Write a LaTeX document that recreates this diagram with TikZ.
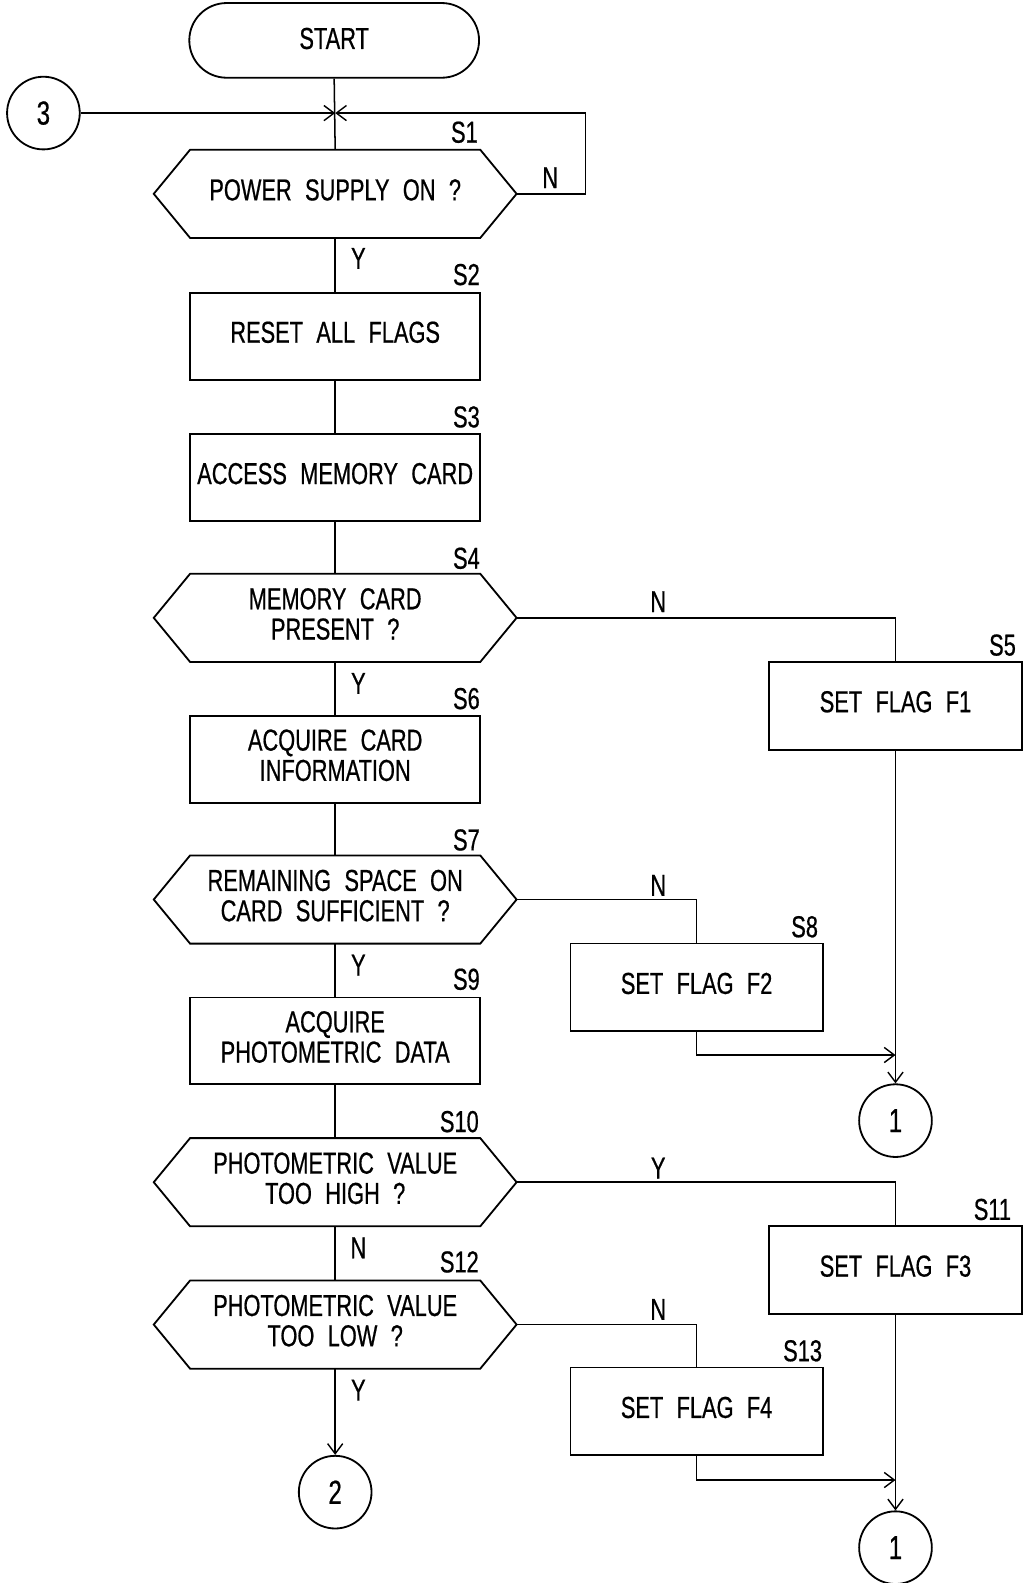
\documentclass[tikz,border=0pt]{standalone}
\usepackage{fontspec}
\setmainfont{Liberation Sans}[FakeStretch=0.72, WordSpace=2.2, FakeBold=0.6]
\usetikzlibrary{arrows.meta}
\newcommand\hexdraw[1]{\draw[line width=1.8pt] ([xshift=36pt]#1.north west) -- ([xshift=-36pt]#1.north east) -- (#1.east) -- ([xshift=-36pt]#1.south east) -- ([xshift=36pt]#1.south west) -- (#1.west) -- cycle;}
\begin{document}
\begin{tikzpicture}[x=1pt,y=-1pt,
  font=\fontsize{30}{30}\selectfont,
  box/.style={draw, line width=1.8pt, minimum width=287pt, minimum height=86pt, align=center, inner sep=0pt, text depth=8pt},
  sbox/.style={box, minimum width=250pt, minimum height=87pt},
  hexn/.style={minimum width=359pt, minimum height=87pt, align=center, inner sep=0pt, text depth=8pt},
  circ/.style={circle, draw, line width=1.8pt, minimum size=72pt, inner sep=0pt, font=\fontsize{33}{33}\selectfont},
  conn/.style={line width=1.5pt},
  arr/.style={conn, -{Straight Barb[length=10pt,width=15pt,line width=1.4pt]}},
  lab/.style={inner sep=0pt}
]
\useasboundingbox (0,0) rectangle (1016,1568);
% nodes
\node[box, minimum height=74pt, rounded corners=37pt, text depth=4pt] (start) at (331,40) {START};
\node[circ] (c3) at (43,112) {3};
\coordinate (j) at (332,112);
\coordinate (r1) at (580,112);
\node[hexn] (s1) at (332,192) {POWER SUPPLY ON ?};
\node[box] (s2) at (332,333) {RESET ALL FLAGS};
\node[box] (s3) at (332,473) {ACCESS MEMORY CARD};
\node[hexn] (s4) at (332,612) {MEMORY CARD\\PRESENT ?};
\node[sbox] (s5) at (887,699) {SET FLAG F1};
\node[box] (s6) at (332,752) {ACQUIRE CARD\\INFORMATION};
\node[hexn] (s7) at (332,891) {REMAINING SPACE ON\\CARD SUFFICIENT ?};
\node[sbox] (s8) at (690,978) {SET FLAG F2};
\node[box] (s9) at (332,1031) {ACQUIRE\\PHOTOMETRIC DATA};
\node[circ] (c1a) at (887,1110) {1};
\coordinate (m1) at (887,1045);
\node[hexn] (s10) at (332,1171) {PHOTOMETRIC VALUE\\TOO HIGH ?};
\node[sbox] (s11) at (887,1258) {SET FLAG F3};
\node[hexn] (s12) at (332,1312) {PHOTOMETRIC VALUE\\TOO LOW ?};
\node[sbox] (s13) at (690,1398) {SET FLAG F4};
\coordinate (m2) at (887,1466);
\node[circ] (c2) at (332,1478) {2};
\node[circ] (c1b) at (887,1533) {1};
% hexagons
\hexdraw{s1}\hexdraw{s4}\hexdraw{s7}\hexdraw{s10}\hexdraw{s12}
% connectors
\draw[conn] (start.south) -- (s1.north);
\draw[arr] (c3.east) -- (j);
\draw[arr] (s1.east) -| (r1) -- (j);
\draw[conn] (s1.south) -- (s2.north);
\draw[conn] (s2.south) -- (s3.north);
\draw[conn] (s3.south) -- (s4.north);
\draw[conn] (s4.east) -| (s5.north);
\draw[conn] (s4.south) -- (s6.north);
\draw[conn] (s6.south) -- (s7.north);
\draw[conn] (s7.east) -| (s8.north);
\draw[conn] (s7.south) -- (s9.north);
\draw[arr] (s5.south) -- (c1a.north);
\draw[arr] (s8.south) |- (m1);
\draw[conn] (s9.south) -- (s10.north);
\draw[conn] (s10.east) -| (s11.north);
\draw[conn] (s10.south) -- (s12.north);
\draw[conn] (s12.east) -| (s13.north);
\draw[arr] (s12.south) -- (c2.north);
\draw[arr] (s11.south) -- (c1b.north);
\draw[arr] (s13.south) |- (m2);
% Y/N labels
\node[lab] (n1) at (545,176) {N};
\node[lab] (y1) at (355,256) {Y};
\node[lab] (n4) at (652,596) {N};
\node[lab] (y4) at (355,677) {Y};
\node[lab] (n7) at (652,877) {N};
\node[lab] (y7) at (355,956) {Y};
\node[lab] (y10) at (652,1157) {Y};
\node[lab] (n10) at (355,1236) {N};
\node[lab] (n12) at (652,1297) {N};
\node[lab] (y12) at (355,1377) {Y};
% step labels
\node[lab] (l1) at (460,131) {S1};
\node[lab] (l2) at (462,272) {S2};
\node[lab] (l3) at (462,413) {S3};
\node[lab] (l4) at (462,553) {S4};
\node[lab] (l5) at (993,639) {S5};
\node[lab] (l6) at (462,692) {S6};
\node[lab] (l7) at (462,832) {S7};
\node[lab] (l8) at (797,918) {S8};
\node[lab] (l9) at (462,970) {S9};
\node[lab] (l10) at (455,1111) {S10};
\node[lab] (l11) at (983,1198) {S11};
\node[lab] (l12) at (455,1250) {S12};
\node[lab] (l13) at (795,1338) {S13};
\end{tikzpicture}
\end{document}
